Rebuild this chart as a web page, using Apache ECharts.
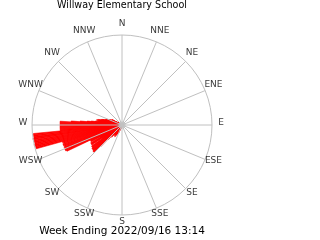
<!DOCTYPE html>
<html>
<head>
<meta charset="utf-8">
<script src="https://cdn.jsdelivr.net/npm/echarts@6/dist/echarts.min.js"></script>
<style>html,body{margin:0;padding:0;background:#fff}#c{width:320px;height:240px}</style>
</head>
<body>
<div id="c"></div>
<script>
// Compass direction tick labels (every 22.5 degrees, clockwise from N)
const dirNames = ['N','NNE','NE','ENE','E','ESE','SE','SSE','S','SSW','SW','WSW','W','WNW','NW','NNW'];
// Wind directions (degrees) and their bar lengths read from the rose
const windDir = [198,200,201,203,204,206,208,209,211,212,214,215,217,218,220,222,224,225,
  226,227,228,229,230,231,232,233,234,235,236,237,238,239,240,241,242,243,244,
  245,246,247,248,249,250,251,252,253,254,
  255,256,257,258,259,260,261,262,263,264,
  265,266,267,268,269,270,271,272,273,
  274,275,276,277,278,279,280,281,282,283,284,285,286,287,288,289,290,291,292,293,294,296,298,299,300,302,305];
const windVal = [4,5,6,8,9,9,11,12,14,10,12,13,11,13,16,14,20,30,
  39,39,39,38,38,38,38,37,37,37,24,36,36,36,36,25,35,35,35,
  61,62,62,61,62,61,62,62,61,62,
  89,89,90,89,89,89,90,89,89,89,
  62,62,62,62,62,62,62,62,62,
  51,42,35,31,27,24,22,26,25,24,22,21,20,18,17,17,16,15,14,14,13,12,11,11,7,5,4];
const titleText = 'Willway Elementary School';
const footText = 'Week Ending 2022/09/16 13:14';
const radiusMax = 90;
const labelRadius = 99;

const chart = echarts.init(document.getElementById('c'), null, {renderer: 'canvas'});
const font = 'DejaVu Sans';
chart.setOption({
  animation: false,
  backgroundColor: '#ffffff',
  title: [
    {text: titleText, left: 122, top: 0, textAlign: 'center', padding: 0,
     textStyle: {fontFamily: font, fontSize: 9.6, fontWeight: 'normal', color: '#000'}},
    {text: footText, left: 122, top: 226, textAlign: 'center', padding: 0,
     textStyle: {fontFamily: font, fontSize: 10.5, fontWeight: 'normal', color: '#000'}}
  ],
  polar: {center: [122, 125], radius: 90},
  angleAxis: {
    type: 'value', min: 0, max: 360, interval: 22.5, startAngle: 90, clockwise: true, z: 5,
    axisLine: {show: true, lineStyle: {color: '#c0c0c0', width: 1}},
    axisTick: {show: false},
    axisLabel: {show: false},
    splitLine: {show: true, lineStyle: {color: '#c0c0c0', width: 1}}
  },
  radiusAxis: {type: 'value', min: 0, max: radiusMax, show: false,
    axisLine: {show: false}, axisTick: {show: false}, axisLabel: {show: false}, splitLine: {show: false}},
  series: [
    {
      type: 'bar', coordinateSystem: 'polar', barWidth: 1, z: 2,
      itemStyle: {color: '#ff0000', borderColor: '#ff0000', borderWidth: 0.6},
      data: windDir.map((d, i) => [windVal[i], d])
    },
    {
      type: 'scatter', coordinateSystem: 'polar', clip: false, z: 6,
      symbolSize: 7, itemStyle: {color: '#c0c0c0'},
      data: [[0, 0]]
    },
    {
      type: 'scatter', coordinateSystem: 'polar', clip: false, z: 7,
      symbolSize: 1, itemStyle: {color: 'rgba(0,0,0,0)'},
      label: {show: true, position: 'inside', offset: [0, -2.5],
        fontFamily: font, fontSize: 9, color: '#000',
        formatter: p => dirNames[p.dataIndex]},
      data: dirNames.map((n, i) => [labelRadius, i * 22.5])
    }
  ]
});
</script>
</body>
</html>
